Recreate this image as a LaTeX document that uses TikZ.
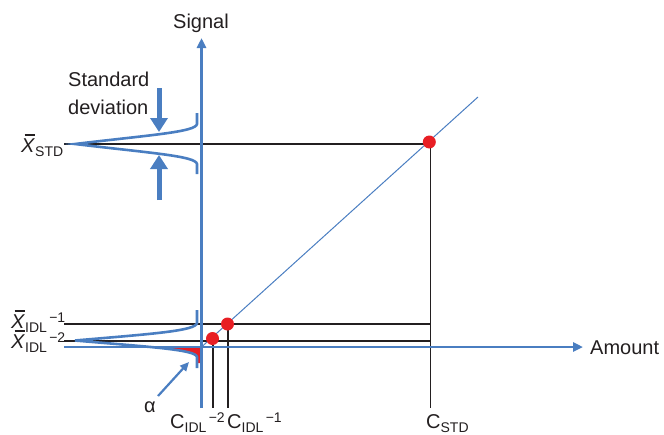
\documentclass[tikz,border=0pt]{standalone}
\usepackage{fontspec}
\setmainfont{Liberation Sans}
\usetikzlibrary{arrows.meta}
\definecolor{axblue}{RGB}{74,126,193}
\definecolor{dotred}{RGB}{232,30,36}
\definecolor{lineblk}{RGB}{35,31,32}
\newcommand\mysub[1]{\raisebox{-4pt}{\fontsize{14}{14}\selectfont #1}}
\newcommand\mysup[1]{\raisebox{6pt}{\fontsize{14}{14}\selectfont\,#1}}
\newcommand\myxbar{\makebox[0pt][l]{\hspace{3.5pt}\rule[16.5pt]{10pt}{1.2pt}}\textit{X}}
\begin{document}
\begin{tikzpicture}[x=1pt,y=-1pt,
  blk/.style={draw=lineblk, line width=1.8pt},
  axisline/.style={draw=axblue, line width=2.6pt, -{Triangle[width=9pt,length=10pt]}},
  gauss/.style={draw=axblue, line width=2.6pt},
  sdarrow/.style={draw=axblue, line width=5pt, -{Triangle[width=17pt,length=14pt]}},
  diag/.style={draw=axblue, line width=1pt},
  reddot/.style={circle, fill=dotred, minimum size=13pt, inner sep=0pt},
  lab/.style={inner sep=0pt, text=lineblk, font=\fontsize{20}{22}\selectfont},
]
\useasboundingbox (0,0) rectangle (664,434);
% key coordinates
\coordinate (O) at (201.5,347);
\coordinate (sigtop) at (201.5,38);
\coordinate (sigbot) at (201.5,408);
\coordinate (amtL) at (64,347);
\coordinate (amtR) at (583,347);
\coordinate (diagE) at (478,97);
\coordinate (xsL) at (64,144);
\coordinate (csC) at (430.5,144);
\coordinate (csB) at (430.5,408);
\coordinate (x1L) at (64,324.3);
\coordinate (x1R) at (430.5,324.3);
\coordinate (c1T) at (228,324.3);
\coordinate (c1B) at (228,408);
\coordinate (x2L) at (64,341);
\coordinate (x2R) at (430.5,341);
\coordinate (c2T) at (213,341);
\coordinate (c2B) at (213,408);
% labels
\node[lab, anchor=base west] (signal) at (173,28) {Signal};
\node[lab, anchor=base west] (amount) at (590,354) {Amount};
\node[lab, anchor=base west] (std1) at (68,86) {Standard};
\node[lab, anchor=base west] (std2) at (68,114) {deviation};
\node[lab, anchor=base west] (xstd) at (21,152) {\myxbar\mysub{STD}};
\node[lab, anchor=base west] (xidl1) at (11,328) {\myxbar\mysub{IDL}\mysup{−1}};
\node[lab, anchor=base west] (xidl2) at (11,348) {\myxbar\mysub{IDL}\mysup{−2}};
\node[lab, anchor=base west] (cidl2) at (170,428) {C\mysub{IDL}\mysup{−2}};
\node[lab, anchor=base west] (cidl1) at (227,428) {C\mysub{IDL}\mysup{−1}};
\node[lab, anchor=base west] (cstd) at (426,428) {C\mysub{STD}};
\node[lab, anchor=base west] (alpha) at (144,412) {α};
% black lines
\draw[blk] (xsL) -- (csC) -- (csB);
\draw[blk] (x1L) -- (x1R);
\draw[blk] (x2L) -- (x2R);
\draw[blk] (c1T) -- (c1B);
\draw[blk] (c2T) -- (c2B);
% red tail area
\begin{scope}
  \clip (64,347) rectangle (201.5,380);
  \fill[dotred] (75,340.5) .. controls (150,347) and (196,349.5) .. (197,357) -- (197,363) -- (201.5,363) -- (201.5,347) -- cycle;
\end{scope}
% gaussians
\draw[gauss] (197,113) -- (197,124) .. controls (196,132) and (150,135) .. (75,144)
  .. controls (150,153) and (196,156) .. (197,164) -- (197,174);
\draw[gauss] (197,310) -- (197,323) .. controls (196,331) and (150,334) .. (75,340.5)
  .. controls (150,347) and (196,349.5) .. (197,357) -- (197,368);
% axes
\draw[axisline] (sigbot) -- (sigtop);
\draw[axisline] (amtL) -- (amtR);
% standard deviation arrows
\coordinate (sdaT) at (159,88);
\coordinate (sdaTt) at (159,132);
\coordinate (sdaB) at (159,200);
\coordinate (sdaBt) at (159,155);
\draw[sdarrow] (sdaT) -- (sdaTt);
\draw[sdarrow] (sdaB) -- (sdaBt);
% calibration line
\draw[diag] (O) -- (diagE);
% dots
\node[reddot] (pstd) at (429.3,142) {};
\node[reddot] (pidl1) at (227.5,324) {};
\node[reddot] (pidl2) at (212.5,338.5) {};
% alpha arrow
\coordinate (alT) at (158,396);
\coordinate (alH) at (189,362);
\draw[draw=axblue, line width=2.2pt, -{Triangle[width=8pt,length=9pt]}] (alT) -- (alH);
\end{tikzpicture}
\end{document}
